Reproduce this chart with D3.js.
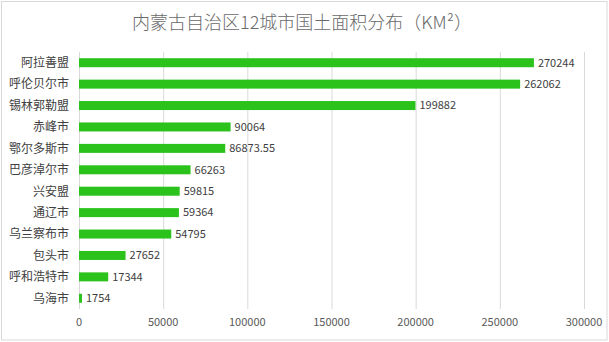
<!DOCTYPE html>
<html><head><meta charset="utf-8">
<script src="https://cdn.jsdelivr.net/npm/d3@7"></script>
<style>body{margin:0;background:#fff}svg{display:block}text{font-family:"Noto Sans CJK SC","Noto Sans",sans-serif}</style>
</head><body><svg id="c" width="609" height="342"></svg>
<script>
const title = "内蒙古自治区12城市国土面积分布（KM²）";
const categories = ["阿拉善盟","呼伦贝尔市","锡林郭勒盟","赤峰市","鄂尔多斯市","巴彦淖尔市","兴安盟","通辽市","乌兰察布市","包头市","呼和浩特市","乌海市"];
const values = [270244,262062,199882,90064,86873.55,66263,59815,59364,54795,27652,17344,1754];
const ticks = [0,50000,100000,150000,200000,250000,300000];

const svg = d3.select("#c");
svg.append("rect").attr("x",1.5).attr("y",1.5).attr("width",605.5).attr("height",338.5)
  .attr("fill","#fff").attr("stroke","#d9d9d9");
svg.append("text").attr("x",302).attr("y",29).attr("text-anchor","middle")
  .attr("font-size",18).attr("font-weight",300).attr("fill","#6a6a6a").text(title);

const x = d3.scaleLinear().domain([0,300000]).range([79,584]);
const y = d3.scaleBand().domain(categories).range([52,309]).paddingInner(0.58).paddingOuter(0.29);

svg.append("g").selectAll("line").data(ticks).join("line")
  .attr("x1",d=>x(d)+0.5).attr("x2",d=>x(d)+0.5).attr("y1",52).attr("y2",309)
  .attr("stroke","#d9d9d9");

svg.append("g").selectAll("rect").data(values).join("rect")
  .attr("x",x(0)).attr("y",(d,i)=>y(categories[i]))
  .attr("width",d=>x(d)-x(0)).attr("height",y.bandwidth()).attr("fill","#2ac21b");

svg.append("g").selectAll("text").data(values).join("text")
  .attr("x",d=>x(d)+4).attr("y",(d,i)=>y(categories[i])+y.bandwidth()/2)
  .attr("dy","0.35em").attr("font-size",11).attr("fill","#404040").text(d=>d);

svg.append("g").selectAll("text").data(categories).join("text")
  .attr("x",69).attr("y",d=>y(d)+y.bandwidth()/2).attr("dy","0.36em")
  .attr("text-anchor","end").attr("font-size",12).attr("fill","#404040").text(d=>d);

svg.append("g").selectAll("text").data(ticks).join("text")
  .attr("x",d=>x(d)).attr("y",326).attr("text-anchor","middle")
  .attr("font-size",11).attr("fill","#595959").text(d=>d);
</script></body></html>
